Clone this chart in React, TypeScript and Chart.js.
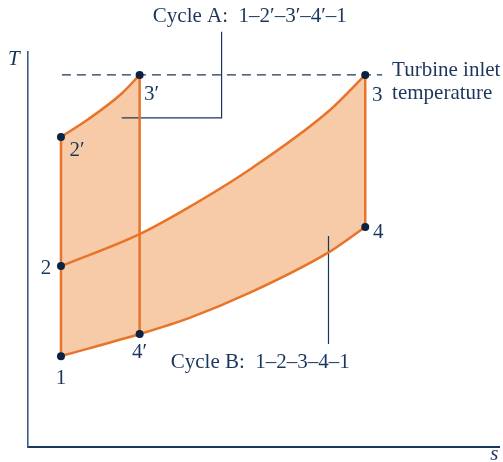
import React, { useEffect, useRef } from "react";
import { Chart, registerables } from "chart.js";

Chart.register(...registerables);

// ---- Data (entropy s, temperature T, arbitrary units) ----
const stateNames = ["1", "2", "2′", "3′", "3", "4", "4′"];
const stateS = [0.7, 0.7, 0.7, 2.37, 7.16, 7.16, 2.37];
const stateT = [2.3, 4.58, 7.85, 9.42, 9.42, 5.57, 2.86];

const highPressureS = [0.7, 2.37, 3.43, 4.7, 6.4, 7.16];
const highPressureT = [4.58, 5.39, 6.08, 7.02, 8.52, 9.42];

const lowPressureS = [0.7, 2.37, 3.43, 4.7, 6.4, 7.16];
const lowPressureT = [2.3, 2.86, 3.27, 3.9, 4.94, 5.57];

const cycleAPressureS = [0.7, 1.27, 1.99, 2.37];
const cycleAPressureT = [7.85, 8.29, 8.95, 9.42];

const turbineInletT = 9.42;
const turbineLineS = [0.72, 7.52];

const leaderAS = [4.11, 4.11, 1.99];
const leaderAT = [10.51, 8.33, 8.33];
const leaderBS = [6.38, 6.38];
const leaderBT = [5.34, 2.61];

const cycleALabel = "Cycle A:  1–2′–3′–4′–1";
const cycleBLabel = "Cycle B:  1–2–3–4–1";
const turbineLabel = ["Turbine inlet", "temperature"];

// ---- styles / label placement ----
const ORANGE = "#e8742a";
const FILL = "#f7cba7";
const NAVY = "#1b365d";
const DOT = "#0b2243";
const FONT = "21px 'Liberation Serif', 'DejaVu Serif', serif";
const IFONT = "italic 21px 'Liberation Serif', 'DejaVu Serif', serif";

// pixel offsets of state labels from their points
const stateLabelOffsets: [number, number][] = [
  [0, 22],
  [-15, 2],
  [16, 14],
  [12, 20],
  [12, 21],
  [13, 5],
  [0, 18],
];

const pts = (xs: number[], ys: number[]) => xs.map((x, i) => ({ x, y: ys[i] }));

const textPlugin = {
  id: "texts",
  afterDraw(chart: any) {
    const { ctx } = chart;
    const xs = chart.scales.x;
    const ys = chart.scales.y;
    const px = (v: number) => xs.getPixelForValue(v);
    const py = (v: number) => ys.getPixelForValue(v);
    ctx.save();
    ctx.fillStyle = NAVY;
    ctx.font = FONT;
    ctx.textBaseline = "middle";
    ctx.textAlign = "center";
    stateNames.forEach((n, i) => {
      const [dx, dy] = stateLabelOffsets[i];
      ctx.fillText(n, px(stateS[i]) + dx, py(stateT[i]) + dy);
    });
    ctx.textAlign = "left";
    ctx.fillText(cycleALabel, px(2.65), py(10.89));
    ctx.fillText(cycleBLabel, px(3.03), py(2.15));
    ctx.fillText(turbineLabel[0], px(7.73), py(9.54));
    ctx.fillText(turbineLabel[1], px(7.73), py(8.96));
    ctx.font = IFONT;
    ctx.textAlign = "center";
    ctx.fillText("T", px(-0.3), py(9.8));
    ctx.fillText("s", px(9.9), py(-0.2));
    ctx.restore();
  },
};

export default function App() {
  const ref = useRef<HTMLCanvasElement | null>(null);
  useEffect(() => {
    if (!ref.current) return;
    const line = (data: any[], extra: any = {}) => ({
      data,
      borderColor: ORANGE,
      borderWidth: 2.5,
      pointRadius: 0,
      fill: false,
      ...extra,
    });
    const chart = new Chart(ref.current, {
      type: "line",
      data: {
        datasets: [
          {
            data: pts(stateS, stateT),
            showLine: false,
            pointRadius: 4,
            pointBackgroundColor: DOT,
            pointBorderWidth: 0,
            borderColor: DOT,
            clip: false,
          } as any,
          line(pts([stateS[0], stateS[2]], [stateT[0], stateT[2]])),
          line(pts([stateS[3], stateS[6]], [stateT[3], stateT[6]])),
          line(pts([stateS[4], stateS[5]], [stateT[4], stateT[5]])),
          line(pts(highPressureS, highPressureT), {
            cubicInterpolationMode: "monotone",
            fill: { target: 5 },
            backgroundColor: FILL,
          }),
          line(pts(lowPressureS, lowPressureT), { cubicInterpolationMode: "monotone" }),
          line(pts(cycleAPressureS, cycleAPressureT), {
            cubicInterpolationMode: "monotone",
            fill: { target: 7 },
            backgroundColor: FILL,
          }),
          line(pts([lowPressureS[0], lowPressureS[1]], [lowPressureT[0], lowPressureT[1]]), {
            borderWidth: 0,
            borderColor: "rgba(0,0,0,0)",
          }),
          {
            data: pts(turbineLineS, [turbineInletT, turbineInletT]),
            borderColor: NAVY,
            borderWidth: 1.3,
            borderDash: [9, 6],
            pointRadius: 0,
            fill: false,
          } as any,
          {
            data: pts(leaderAS, leaderAT),
            borderColor: NAVY,
            borderWidth: 1.2,
            pointRadius: 0,
            fill: false,
            clip: false,
          } as any,
          {
            data: pts(leaderBS, leaderBT),
            borderColor: NAVY,
            borderWidth: 1.2,
            pointRadius: 0,
            fill: false,
            clip: false,
          } as any,
        ],
      },
      options: {
        responsive: false,
        animation: false,
        events: [],
        layout: { padding: { left: 28, top: 52, right: 3, bottom: 15 } },
        scales: {
          x: {
            type: "linear",
            min: 0,
            max: 10,
            ticks: { display: false },
            grid: { display: false, drawTicks: false },
            border: { display: true, color: NAVY, width: 2 },
          },
          y: {
            type: "linear",
            min: 0,
            max: 10,
            ticks: { display: false },
            grid: { display: false, drawTicks: false },
            border: { display: true, color: "#3d5a80", width: 1.6 },
          },
        },
        plugins: {
          legend: { display: false },
          tooltip: { enabled: false },
          filler: { drawTime: "beforeDatasetsDraw" },
        } as any,
      },
      plugins: [textPlugin],
    } as any);
    return () => chart.destroy();
  }, []);
  return (
    <div style={{ position: "fixed", left: 0, top: 0, width: 503, height: 462, background: "#fff" }}>
      <canvas ref={ref} width={503} height={462} style={{ display: "block" }} />
    </div>
  );
}
